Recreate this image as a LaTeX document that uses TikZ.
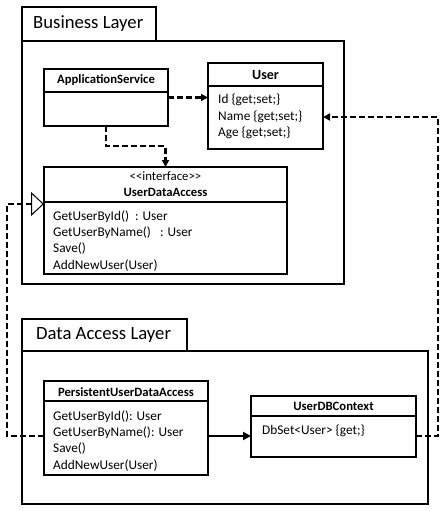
\documentclass[tikz,border=0pt]{standalone}
\usepackage{fontspec}
\setmainfont{Carlito}
\usetikzlibrary{arrows.meta,calc}
\begin{document}
\begin{tikzpicture}[x=1pt,y=-1pt,
  frame/.style={draw, line width=1.3pt, anchor=north west, inner sep=0pt, outer sep=0pt},
  pkgtitle/.style={anchor=west, inner sep=0pt, font=\fontsize{18.7}{22}\selectfont},
  clsname/.style={inner sep=0pt, font=\fontsize{12.7}{15}\selectfont\bfseries},
  members/.style={anchor=north west, inner sep=0pt, align=left, font=\fontsize{13.3}{16.2}\selectfont},
  divider/.style={line width=1.2pt},
  dep/.style={line width=2.2pt, dash pattern=on 6pt off 3pt, -{Triangle[length=7pt,width=7pt]}},
  real/.style={line width=2.2pt, dash pattern=on 6pt off 3pt, -{Triangle[open,length=13pt,width=24pt,line width=1pt]}},
  assoc/.style={line width=2pt, -{Triangle[length=8pt,width=8pt]}}
]
\useasboundingbox (0,0) rectangle (446,511);

% Business Layer package
\node[frame, minimum width=134pt, minimum height=34pt] (bltab) at (22,7) {};
\node[pkgtitle] (bltitle) at (33,24) {Business Layer};
\node[frame, minimum width=322pt, minimum height=243pt] (blbox) at (22,41) {};

% ApplicationService
\node[frame, minimum width=124pt, minimum height=57pt] (app) at (44,69) {};
\draw[divider] (44,92) -- (168,92);
\node[clsname] (appname) at (106,80.5) {ApplicationService};

% User
\node[frame, minimum width=115pt, minimum height=86pt] (user) at (208,63) {};
\draw[divider] (208,86) -- (323,86);
\node[clsname, font=\fontsize{14}{16}\selectfont\bfseries] (username) at (265.5,75) {User};
\node[members] (userattr) at (218,94) {Id \{get;set;\}\\Name \{get;set;\}\\Age \{get;set;\}};

% UserDataAccess
\node[frame, minimum width=243pt, minimum height=107pt] (uda) at (44,167) {};
\draw[divider] (44,202) -- (287,202);
\node[inner sep=0pt, font=\fontsize{12.8}{15}\selectfont] (udast) at (165.5,176) {<{}<interface>{}>};
\node[clsname] (udaname) at (165.5,192) {UserDataAccess};
\node[members] (udaops) at (53,210.5) {GetUserById()~ : User\\GetUserByName()~~ : User\\Save()\\AddNewUser(User)};

% Data Access Layer package
\node[frame, minimum width=165pt, minimum height=32pt] (daltab) at (22,319) {};
\node[pkgtitle] (daltitle) at (36,335) {Data Access Layer};
\node[frame, minimum width=406pt, minimum height=153pt] (dalbox) at (22,351) {};

% PersistentUserDataAccess
\node[frame, minimum width=164pt, minimum height=94pt] (pda) at (44,381) {};
\draw[divider] (44,401) -- (208,401);
\node[clsname] (pdaname) at (126,392) {PersistentUserDataAccess};
\node[members] (pdaops) at (53,410.5) {GetUserById(): User\\GetUserByName(): User\\Save()\\AddNewUser(User)};

% UserDBContext
\node[frame, minimum width=165pt, minimum height=61pt] (dbc) at (251,396) {};
\draw[divider] (251,416) -- (416,416);
\node[clsname] (dbcname) at (333.5,406) {UserDBContext};
\node[members] (dbcattr) at (262,424.5) {DbSet<User> \{get;\}};

% connectors
\coordinate (lbend) at (7,436);
\coordinate (rbend) at (438,436);
\draw[dep] (app.east) -- (app.east -| user.west);
\draw[dep] (app.south) -- ++(0,20) -| (uda.north);
\draw[real] (pda.west |- lbend) -- (lbend) |- ([yshift=16.5pt]uda.west);
\draw[dep] (dbc.east |- rbend) -- (rbend) |- ([yshift=-11pt]user.east);
\draw[assoc] ([yshift=-8pt]pda.east) -- ([yshift=-8pt]pda.east -| dbc.west);
\end{tikzpicture}
\end{document}
